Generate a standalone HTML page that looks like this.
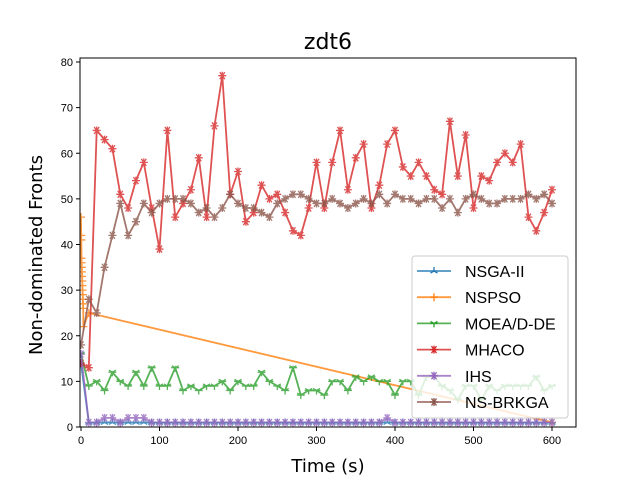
<!DOCTYPE html>
<html><head><meta charset="utf-8"><style>
body{margin:0;background:#fff;}
svg text{font-family:"Liberation Sans","DejaVu Sans",sans-serif;}
svg text.dv{font-family:"DejaVu Sans","Liberation Sans",sans-serif;}
</style></head><body>
<svg id="chart" width="640" height="480" xmlns="http://www.w3.org/2000/svg">
<rect width="640" height="480" fill="#fff"/>
<text class="dv" x="328" y="49" font-size="22" text-anchor="middle">zdt6</text>
<g id="plot"></g>
<g id="axes"></g>
<text class="dv" x="328" y="472" font-size="18" text-anchor="middle">Time (s)</text>
<text class="dv" x="42" y="255" font-size="18" text-anchor="middle" transform="rotate(-90 42 255)">Non-dominated Fronts</text>
<g id="legend"></g>
</svg>
<script>
const xTicks=[0,100,200,300,400,500,600];
const yTicks=[0,10,20,30,40,50,60,70,80];
const seriesNames=["NSGA-II","NSPSO","MOEA/D-DE","MHACO","IHS","NS-BRKGA"];
const times=[0,10,20,30,40,50,60,70,80,90,100,110,120,130,140,150,160,170,180,190,200,210,220,230,240,250,260,270,280,290,300,310,320,330,340,350,360,370,380,390,400,410,420,430,440,450,460,470,480,490,500,510,520,530,540,550,560,570,580,590,600];
const nsga2=[14,1,1,1,1,1,1,1,1,1,1,1,1,1,1,1,1,1,1,1,1,1,1,1,1,1,1,1,1,1,1,1,1,1,1,1,1,1,1,1,1,1,1,1,1,1,1,1,1,1,1,1,1,1,1,1,1,1,1,1,1];
const nspsoTimes=[0,0.2,0.4,0.6,0.8,1,1.2,1.4,1.6,1.8,2,2.2,2.4,2.6,2.8,3,10,600];
const nspso=[46,42,41,37,36,35,34,33,32,31,30,29,28,27,26,22,25,1];
const moead=[16,9,10,8,12,10,9,12,9,13,9,9,13,8,9,8,9,9,10,8,10,9,9,12,10,9,8,13,7,8,8,7,10,10,8,11,10,11,10,10,7,10,10,7,11,11,9,8,6,9,9,6,9,8,9,9,9,9,11,8,9];
const mhaco=[14,13,65,63,61,51,48,54,58,48,39,65,46,49,52,59,46,66,77,51,56,45,47,53,50,51,47,43,42,48,58,48,58,65,52,59,62,48,53,62,65,57,55,58,55,52,51,67,55,64,48,55,54,58,60,58,62,46,43,47,52];
const ihs=[16,1,1,2,2,1,2,2,2,1,1,1,1,1,1,1,1,1,1,1,1,1,1,1,1,1,1,1,1,1,1,1,1,1,1,1,1,1,1,2,1,1,1,1,1,1,1,1,1,1,1,1,1,1,1,1,1,1,1,1,1];
const brkga=[18,28,25,35,42,49,42,45,49,47,49,50,50,50,49,47,48,46,48,51,49,48,48,47,46,49,50,51,51,50,49,49,50,49,48,49,50,49,51,49,51,50,50,49,50,50,48,50,47,50,51,50,49,49,50,50,50,51,50,51,49];
const colors=["#1f77b4","#ff7f0e","#2ca02c","#d62728","#9467bd","#8c564b"];
const markers=["tri","plus","tri3","star","star","star"];
const L=80,R=576,T=58,B=427;
const xs=t=>81+t*0.785;
const ys=v=>427-v*4.5625;
const NS="http://www.w3.org/2000/svg";
function el(tag,attrs,parent){const e=document.createElementNS(NS,tag);for(const k in attrs)e.setAttribute(k,attrs[k]);parent.appendChild(e);return e;}
const plot=document.getElementById('plot');
const axes=document.getElementById('axes');
const legend=document.getElementById('legend');
el('defs',{},plot).innerHTML='<clipPath id="clip"><rect x="80" y="58" width="496" height="369"/></clipPath>';
const inner=el('g',{'clip-path':'url(#clip)'},plot);
function marker(kind,x,y,c,parent){
  let d="";const r=4;
  if(kind==="plus"){d=`M${x-r} ${y}H${x+r}M${x} ${y-r}V${y+r}`;}
  else if(kind==="tri"){d=`M${x} ${y}V${y-r}M${x} ${y}L${x-3.5} ${y+2}M${x} ${y}L${x+3.5} ${y+2}`;}
  else if(kind==="tri3"){d=`M${x} ${y}V${y+r}M${x} ${y}L${x-3.5} ${y-2}M${x} ${y}L${x+3.5} ${y-2}M${x-r} ${y}H${x+r}`;}
  else {d=`M${x-r} ${y}H${x+r}M${x-2.5} ${y-3.5}L${x+2.5} ${y+3.5}M${x+2.5} ${y-3.5}L${x-2.5} ${y+3.5}M${x} ${y-r}V${y+r}`;}
  return el('path',{d:d,stroke:c,'stroke-width':1.3,fill:'none'},parent);
}
const allSeries=[[times,nsga2],[nspsoTimes,nspso],[times,moead],[times,mhaco],[times,ihs],[times,brkga]];
allSeries.forEach((s,i)=>{
  const g=el('g',{opacity:0.8},inner);
  
  
  const pts=s[0].map((t,j)=>xs(t).toFixed(1)+','+ys(s[1][j]).toFixed(1)).join(' ');
  const line=el('polyline',{points:pts,fill:'none',stroke:colors[i],'stroke-width':1.8},g);
  
  
  s[0].forEach((t,j)=>{
    const m=marker(markers[i],xs(t),ys(s[1][j]),colors[i],g);
    
    
  });
});
el('rect',{x:L,y:T,width:R-L,height:B-T,fill:'none',stroke:'#000','stroke-width':1},axes);
xTicks.forEach(t=>{
  const x=xs(t);
  const tk=el('line',{x1:x,x2:x,y1:B,y2:B+4,stroke:'#000'},axes);
  
  
  const tx=el('text',{x:x,y:B+17,'font-size':11,'text-anchor':'middle'},axes);
  tx.textContent=t;
  
  
});
yTicks.forEach(v=>{
  const y=ys(v);
  const tk=el('line',{x1:L-4,x2:L,y1:y,y2:y,stroke:'#000'},axes);
  
  
  const tx=el('text',{x:L-7,y:y+4,'font-size':11,'text-anchor':'end'},axes);
  tx.textContent=v;
  
  
});
el('rect',{x:412,y:256,width:156,height:162,rx:3,fill:'#fff','fill-opacity':0.8,stroke:'#ccc'},legend);
seriesNames.forEach((n,i)=>{
  const y=271+i*26.2;
  const g=el('g',{},legend);
  
  
  el('line',{x1:417,x2:451,y1:y,y2:y,stroke:colors[i],'stroke-width':1.8,opacity:0.8},g);
  marker(markers[i],434,y,colors[i],g);
  const t=el('text',{x:465,y:y+6,'font-size':16},g);
  t.textContent=n;
});
</script>
</body></html>
